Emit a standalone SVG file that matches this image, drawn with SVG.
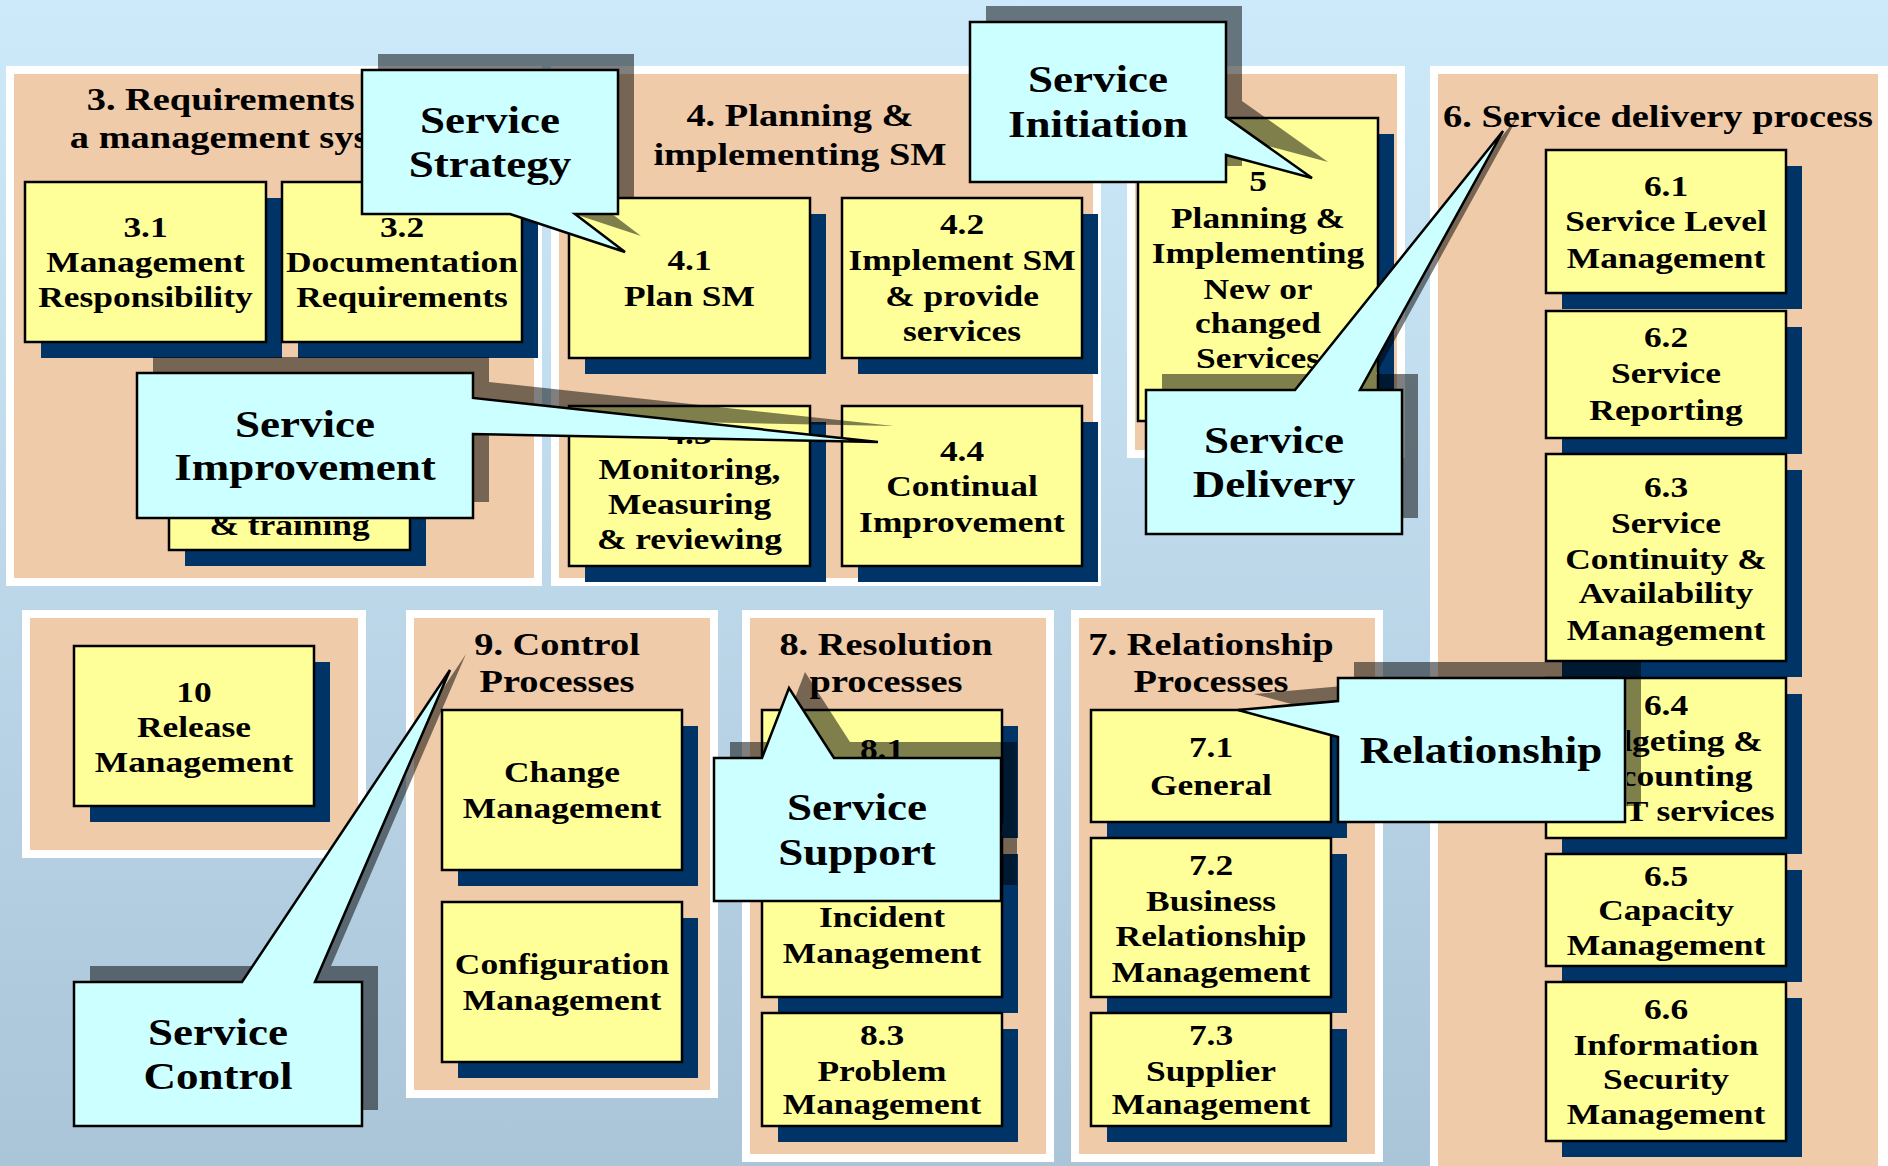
<svg xmlns="http://www.w3.org/2000/svg" width="1888" height="1166" viewBox="0 0 1888 1166">
<defs>
<linearGradient id="bg" x1="0" y1="0" x2="0" y2="1">
<stop offset="0" stop-color="#CDEAFB"/>
<stop offset="1" stop-color="#AAC5D7"/>
</linearGradient>
<clipPath id="clip64"><rect x="1627" y="640" width="200" height="220"/></clipPath>
<style>
.frame{fill:#FFFFFF}
.panel{fill:#EFCBA9}
.sh{fill:#003366}
.box{fill:#FFFF99;stroke:#000;stroke-width:2.5}
.csh{fill:#000;fill-opacity:0.5}
.co{fill:#CCFFFF;stroke:#000;stroke-width:2.5}
.t{font-family:"Liberation Serif","Times New Roman",serif;font-weight:bold;font-size:29.5px;text-anchor:middle;fill:#000}
.h{font-size:32px}
.c{font-size:37.5px}
</style>
</defs>
<rect x="0" y="0" width="1888" height="1166" fill="url(#bg)"/>

<g id="panel3">
<rect class="frame" x="6" y="66" width="536" height="520"/>
<rect class="panel" x="14" y="74" width="520" height="504"/>
<text class="t h" transform="translate(250 0) scale(1.2 1)"><tspan x="0" y="110">3. Requirements for</tspan><tspan x="0" y="148">a management system</tspan></text>
</g>
<g id="panel4">
<rect class="frame" x="551" y="66" width="550" height="520"/>
<rect class="panel" x="559" y="74" width="534" height="504"/>
<text class="t h" transform="translate(800 0) scale(1.2 1)"><tspan x="0" y="126">4. Planning &amp;</tspan><tspan x="0" y="165">implementing SM</tspan></text>
</g>
<g id="panel5">
<rect class="frame" x="1127" y="66" width="278" height="392"/>
<rect class="panel" x="1135" y="74" width="262" height="376"/>
</g>
<g id="panel6">
<rect class="frame" x="1430" y="66" width="458" height="1110"/>
<rect class="panel" x="1438" y="74" width="440" height="1100"/>
<text class="t h" transform="translate(1658 0) scale(1.2 1)"><tspan x="0" y="127">6. Service delivery process</tspan></text>
</g>
<g id="panel10">
<rect class="frame" x="22" y="610" width="344" height="248"/>
<rect class="panel" x="30" y="618" width="328" height="232"/>
</g>
<g id="panel9">
<rect class="frame" x="406" y="610" width="312" height="488"/>
<rect class="panel" x="414" y="618" width="296" height="472"/>
<text class="t h" transform="translate(557 0) scale(1.2 1)"><tspan x="0" y="655">9. Control</tspan><tspan x="0" y="692">Processes</tspan></text>
</g>
<g id="panel8">
<rect class="frame" x="742" y="610" width="312" height="552"/>
<rect class="panel" x="750" y="618" width="296" height="536"/>
<text class="t h" transform="translate(886 0) scale(1.2 1)"><tspan x="0" y="655">8. Resolution</tspan><tspan x="0" y="692">processes</tspan></text>
</g>
<g id="panel7">
<rect class="frame" x="1071" y="610" width="312" height="552"/>
<rect class="panel" x="1079" y="618" width="296" height="536"/>
<text class="t h" transform="translate(1211 0) scale(1.2 1)"><tspan x="0" y="655">7. Relationship</tspan><tspan x="0" y="692">Processes</tspan></text>
</g>

<g id="box31"><rect class="sh" x="41" y="198" width="241" height="160"/><rect class="box" x="25" y="182" width="241" height="160"/>
<text class="t" transform="translate(145.5 0) scale(1.2 1)"><tspan x="0" y="237">3.1</tspan><tspan x="0" y="272">Management</tspan><tspan x="0" y="307">Responsibility</tspan></text></g>
<g id="box32"><rect class="sh" x="298" y="198" width="240" height="160"/><rect class="box" x="282" y="182" width="240" height="160"/>
<text class="t" transform="translate(402 0) scale(1.2 1)"><tspan x="0" y="237">3.2</tspan><tspan x="0" y="272">Documentation</tspan><tspan x="0" y="307">Requirements</tspan></text></g>
<g id="box33"><rect class="sh" x="185" y="408" width="241" height="158"/><rect class="box" x="169" y="392" width="241" height="158"/>
<text class="t" transform="translate(289.5 0) scale(1.2 1)"><tspan x="0" y="535">&amp; training</tspan></text></g>

<g id="box41"><rect class="sh" x="585" y="214" width="241" height="160"/><rect class="box" x="569" y="198" width="241" height="160"/>
<text class="t" transform="translate(689.5 0) scale(1.2 1)"><tspan x="0" y="270">4.1</tspan><tspan x="0" y="306">Plan SM</tspan></text></g>
<g id="box42"><rect class="sh" x="858" y="214" width="240" height="160"/><rect class="box" x="842" y="198" width="240" height="160"/>
<text class="t" transform="translate(962 0) scale(1.2 1)"><tspan x="0" y="234">4.2</tspan><tspan x="0" y="270">Implement SM</tspan><tspan x="0" y="306">&amp; provide</tspan><tspan x="0" y="341">services</tspan></text></g>
<g id="box43"><rect class="sh" x="585" y="422" width="241" height="160"/><rect class="box" x="569" y="406" width="241" height="160"/>
<text class="t" transform="translate(689.5 0) scale(1.2 1)"><tspan x="0" y="444">4.3</tspan><tspan x="0" y="479">Monitoring,</tspan><tspan x="0" y="514">Measuring</tspan><tspan x="0" y="549">&amp; reviewing</tspan></text></g>
<g id="box44"><rect class="sh" x="858" y="422" width="240" height="160"/><rect class="box" x="842" y="406" width="240" height="160"/>
<text class="t" transform="translate(962 0) scale(1.2 1)"><tspan x="0" y="461">4.4</tspan><tspan x="0" y="496">Continual</tspan><tspan x="0" y="532">Improvement</tspan></text></g>

<g id="box5"><rect class="sh" x="1154" y="134" width="240" height="303"/><rect class="box" x="1138" y="118" width="240" height="303"/>
<text class="t" transform="translate(1258 0) scale(1.2 1)"><tspan x="0" y="191">5</tspan><tspan x="0" y="228">Planning &amp;</tspan><tspan x="0" y="263">Implementing</tspan><tspan x="0" y="299">New or</tspan><tspan x="0" y="333">changed</tspan><tspan x="0" y="368">Services</tspan></text></g>

<g id="box61"><rect class="sh" x="1562" y="166" width="240" height="143"/><rect class="box" x="1546" y="150" width="240" height="143"/>
<text class="t" transform="translate(1666 0) scale(1.2 1)"><tspan x="0" y="196">6.1</tspan><tspan x="0" y="231">Service Level</tspan><tspan x="0" y="268">Management</tspan></text></g>
<g id="box62"><rect class="sh" x="1562" y="327" width="240" height="127"/><rect class="box" x="1546" y="311" width="240" height="127"/>
<text class="t" transform="translate(1666 0) scale(1.2 1)"><tspan x="0" y="347">6.2</tspan><tspan x="0" y="383">Service</tspan><tspan x="0" y="420">Reporting</tspan></text></g>
<g id="box63"><rect class="sh" x="1562" y="470" width="240" height="207"/><rect class="box" x="1546" y="454" width="240" height="207"/>
<text class="t" transform="translate(1666 0) scale(1.2 1)"><tspan x="0" y="497">6.3</tspan><tspan x="0" y="533">Service</tspan><tspan x="0" y="569">Continuity &amp;</tspan><tspan x="0" y="603">Availability</tspan><tspan x="0" y="640">Management</tspan></text></g>
<g id="box64"><rect class="sh" x="1562" y="694" width="240" height="160"/><rect class="box" x="1546" y="678" width="240" height="160"/>
<text class="t" transform="translate(1666 0) scale(1.2 1)"><tspan x="0" y="715">6.4</tspan></text>
<g clip-path="url(#clip64)"><text class="t" transform="translate(1666 0) scale(1.2 1)"><tspan x="0" y="751">Budgeting &amp;</tspan><tspan x="0" y="786">Accounting</tspan><tspan x="0" y="821">for IT services</tspan></text></g></g>
<g id="box65"><rect class="sh" x="1562" y="870" width="240" height="112"/><rect class="box" x="1546" y="854" width="240" height="112"/>
<text class="t" transform="translate(1666 0) scale(1.2 1)"><tspan x="0" y="886">6.5</tspan><tspan x="0" y="920">Capacity</tspan><tspan x="0" y="955">Management</tspan></text></g>
<g id="box66"><rect class="sh" x="1562" y="998" width="240" height="159"/><rect class="box" x="1546" y="982" width="240" height="159"/>
<text class="t" transform="translate(1666 0) scale(1.2 1)"><tspan x="0" y="1019">6.6</tspan><tspan x="0" y="1055">Information</tspan><tspan x="0" y="1089">Security</tspan><tspan x="0" y="1124">Management</tspan></text></g>

<g id="box10"><rect class="sh" x="90" y="662" width="240" height="160"/><rect class="box" x="74" y="646" width="240" height="160"/>
<text class="t" transform="translate(194 0) scale(1.2 1)"><tspan x="0" y="702">10</tspan><tspan x="0" y="737">Release</tspan><tspan x="0" y="772">Management</tspan></text></g>

<g id="box9change"><rect class="sh" x="458" y="726" width="240" height="160"/><rect class="box" x="442" y="710" width="240" height="160"/>
<text class="t" transform="translate(562 0) scale(1.2 1)"><tspan x="0" y="782">Change</tspan><tspan x="0" y="818">Management</tspan></text></g>
<g id="box9config"><rect class="sh" x="458" y="918" width="240" height="160"/><rect class="box" x="442" y="902" width="240" height="160"/>
<text class="t" transform="translate(562 0) scale(1.2 1)"><tspan x="0" y="974">Configuration</tspan><tspan x="0" y="1010">Management</tspan></text></g>

<g id="box81"><rect class="sh" x="778" y="726" width="240" height="112"/><rect class="box" x="762" y="710" width="240" height="112"/>
<text class="t" transform="translate(882 0) scale(1.2 1)"><tspan x="0" y="759">8.1</tspan></text></g>
<g id="box82"><rect class="sh" x="778" y="854" width="240" height="159"/><rect class="box" x="762" y="838" width="240" height="159"/>
<text class="t" transform="translate(882 0) scale(1.2 1)"><tspan x="0" y="927">Incident</tspan><tspan x="0" y="963">Management</tspan></text></g>
<g id="box83"><rect class="sh" x="778" y="1029" width="240" height="113"/><rect class="box" x="762" y="1013" width="240" height="113"/>
<text class="t" transform="translate(882 0) scale(1.2 1)"><tspan x="0" y="1045">8.3</tspan><tspan x="0" y="1081">Problem</tspan><tspan x="0" y="1114">Management</tspan></text></g>

<g id="box71"><rect class="sh" x="1107" y="726" width="240" height="112"/><rect class="box" x="1091" y="710" width="240" height="112"/>
<text class="t" transform="translate(1211 0) scale(1.2 1)"><tspan x="0" y="757">7.1</tspan><tspan x="0" y="795">General</tspan></text></g>
<g id="box72"><rect class="sh" x="1107" y="854" width="240" height="159"/><rect class="box" x="1091" y="838" width="240" height="159"/>
<text class="t" transform="translate(1211 0) scale(1.2 1)"><tspan x="0" y="875">7.2</tspan><tspan x="0" y="911">Business</tspan><tspan x="0" y="946">Relationship</tspan><tspan x="0" y="982">Management</tspan></text></g>
<g id="box73"><rect class="sh" x="1107" y="1029" width="240" height="113"/><rect class="box" x="1091" y="1013" width="240" height="113"/>
<text class="t" transform="translate(1211 0) scale(1.2 1)"><tspan x="0" y="1045">7.3</tspan><tspan x="0" y="1081">Supplier</tspan><tspan x="0" y="1114">Management</tspan></text></g>

<g id="connectors"></g>

<g id="callout-strategy">
<polygon class="csh" transform="translate(16 -16)" points="362,70 618,70 618,214 575,214 625,252 510,214 362,214"/>
<polygon class="co" points="362,70 618,70 618,214 575,214 625,252 510,214 362,214"/>
<text class="t c" transform="translate(490 0) scale(1.2 1)"><tspan x="0" y="133">Service</tspan><tspan x="0" y="177">Strategy</tspan></text>
</g>
<g id="callout-initiation">
<polygon class="csh" transform="translate(16 -16)" points="970,22 1226,22 1226,117 1312,178 1226,155 1226,182 970,182"/>
<polygon class="co" points="970,22 1226,22 1226,117 1312,178 1226,155 1226,182 970,182"/>
<text class="t c" transform="translate(1098 0) scale(1.2 1)"><tspan x="0" y="92">Service</tspan><tspan x="0" y="137">Initiation</tspan></text>
</g>
<g id="callout-improvement">
<polygon class="csh" transform="translate(16 -16)" points="137,373 473,373 473,398 878,442 473,434 473,518 137,518"/>
<polygon class="co" points="137,373 473,373 473,398 878,442 473,434 473,518 137,518"/>
<text class="t c" transform="translate(305 0) scale(1.2 1)"><tspan x="0" y="437">Service</tspan><tspan x="0" y="480">Improvement</tspan></text>
</g>
<g id="callout-delivery">
<polygon class="csh" transform="translate(16 -16)" points="1146,390 1295,390 1503,131 1360,390 1402,390 1402,534 1146,534"/>
<polygon class="co" points="1146,390 1295,390 1503,131 1360,390 1402,390 1402,534 1146,534"/>
<text class="t c" transform="translate(1274 0) scale(1.2 1)"><tspan x="0" y="453">Service</tspan><tspan x="0" y="497">Delivery</tspan></text>
</g>
<g id="callout-control">
<polygon class="csh" transform="translate(16 -16)" points="74,982 242,982 450,670 315,982 362,982 362,1126 74,1126"/>
<polygon class="co" points="74,982 242,982 450,670 315,982 362,982 362,1126 74,1126"/>
<text class="t c" transform="translate(218 0) scale(1.2 1)"><tspan x="0" y="1045">Service</tspan><tspan x="0" y="1089">Control</tspan></text>
</g>
<g id="callout-support">
<polygon class="csh" transform="translate(16 -16)" points="714,758 762,758 789,688 834,758 1001,758 1001,901 714,901"/>
<polygon class="co" points="714,758 762,758 789,688 834,758 1001,758 1001,901 714,901"/>
<text class="t c" transform="translate(857 0) scale(1.2 1)"><tspan x="0" y="820">Service</tspan><tspan x="0" y="865">Support</tspan></text>
</g>
<g id="callout-relationship">
<polygon class="csh" transform="translate(16 -16)" points="1338,678 1625,678 1625,822 1338,822 1338,737 1238,710 1338,701"/>
<polygon class="co" points="1338,678 1625,678 1625,822 1338,822 1338,737 1238,710 1338,701"/>
<text class="t c" transform="translate(1481 0) scale(1.2 1)"><tspan x="0" y="763">Relationship</tspan></text>
</g>
</svg>
